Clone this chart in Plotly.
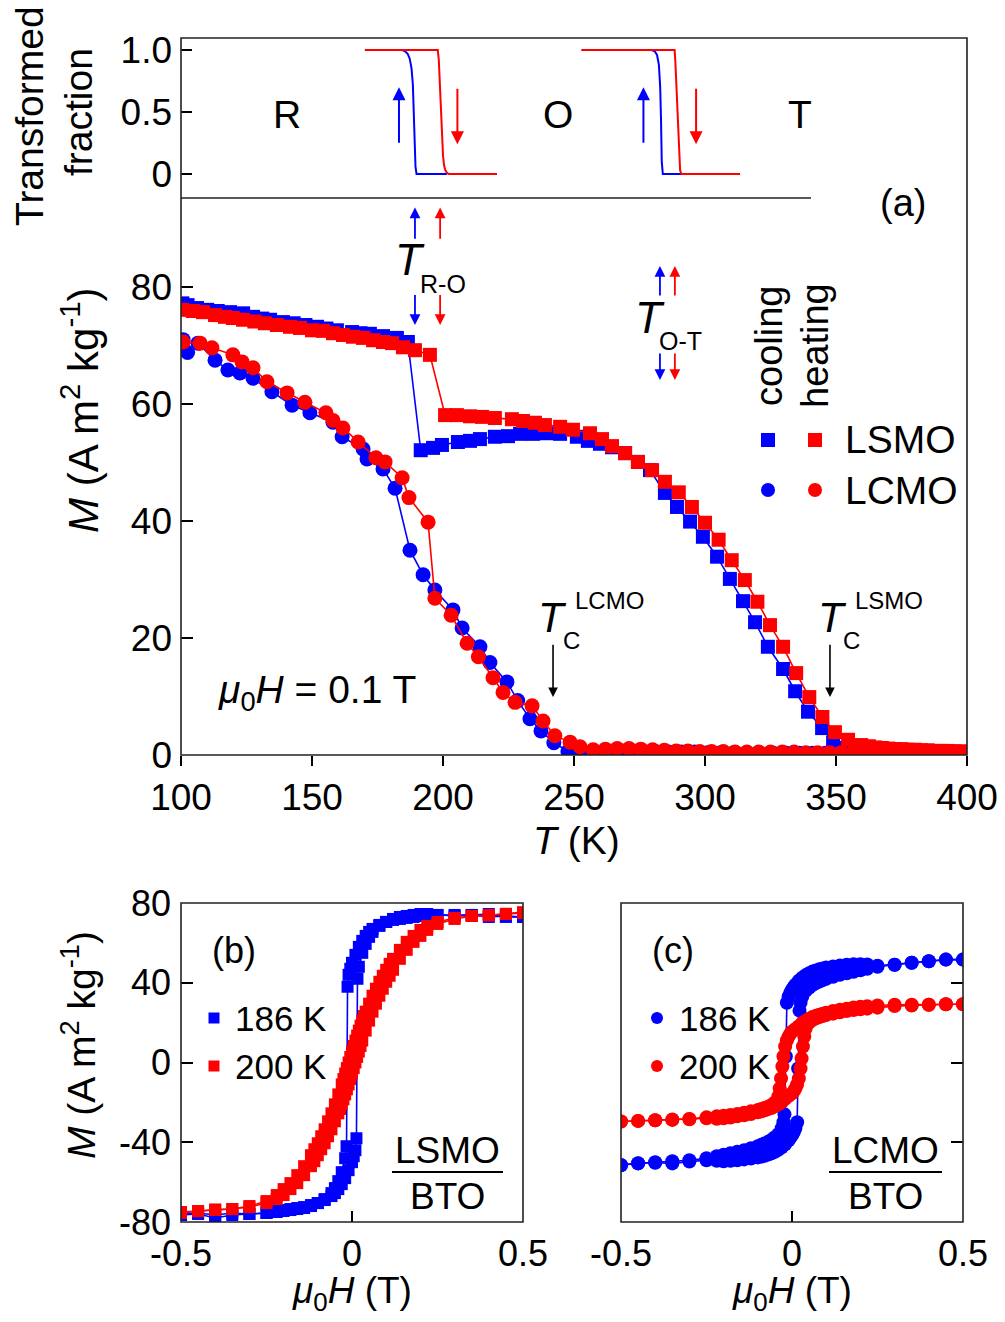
import plotly.graph_objects as go

FONT = "Liberation Sans, Arial, Helvetica, sans-serif"
BLUE = "#0000ff"
RED = "#ff0000"
W, H = 1005, 1322


def px(x):
    return x / W


def py(y):
    return 1 - y / H


# ---------------- (a) top strip: transformed fraction ----------------
ro_cool_T = [170.2, 184.5, 185.5, 186.5, 187.3, 188.0, 188.5, 188.9, 189.2, 189.5, 189.9, 201.5]
ro_cool_F = [1, 1, 0.99, 0.97, 0.93, 0.85, 0.72, 0.5, 0.25, 0.06, 0, 0]
ro_heat_T = [170.2, 198.0, 198.4, 198.8, 199.2, 199.6, 200.0, 200.4, 200.9, 201.5, 202.2, 220.6]
ro_heat_F = [1, 1, 0.92, 0.72, 0.5, 0.3, 0.15, 0.07, 0.03, 0.01, 0, 0]
ot_cool_T = [252.9, 279.6, 280.8, 281.7, 282.4, 282.9, 283.2, 283.5, 283.9, 291.0]
ot_cool_F = [1, 1, 0.99, 0.96, 0.88, 0.7, 0.45, 0.1, 0, 0]
ot_heat_T = [252.9, 288.4, 288.7, 289.0, 289.4, 289.8, 290.1, 290.5, 291.0, 313.4]
ot_heat_F = [1, 1, 0.9, 0.75, 0.5, 0.25, 0.1, 0.03, 0, 0]

# ---------------- (a) M(T) at 0.1 T ----------------
lsmo_cool_T = [100.5, 102.5, 106.1, 110.0, 114.0, 118.7, 123.7, 127.5, 131.0, 134.0,
               138.9, 143.0, 147.5, 151.9, 155.5, 159.5, 165.3, 168.5, 172.1, 177.1,
               182.4, 186.6, 191.5, 196.2, 199.6, 205.7, 210.3, 214.1, 219.8, 224.8,
               229.4, 234.4, 239.7, 244.7, 251.1, 255.3, 259.9, 264.5, 269.5, 274.4,
               279.0, 284.7, 289.3, 294.3, 299.2, 304.6, 309.5, 314.5, 319.1, 324.0,
               329.8, 334.4, 339.3, 344.7, 348.9, 354.2, 357.5, 360.0, 362.5, 365.0,
               367.5, 370.0, 372.5, 375.0, 377.5, 380.0, 382.5, 385.0, 387.5, 390.0,
               392.5, 395.0, 397.5, 400.0]
lsmo_cool_M = [77.2, 76.9, 76.4, 76.1, 75.9, 75.7, 75.5, 74.9, 74.6, 74.4,
               74.0, 73.8, 73.5, 73.2, 72.9, 72.6, 72.3, 72.1, 72.0, 71.6,
               71.3, 70.6, 52.1, 52.5, 53.0, 53.5, 53.7, 54.0, 54.4, 54.5,
               54.9, 54.9, 55.0, 54.9, 54.4, 53.7, 53.2, 52.6, 51.6, 50.1,
               48.7, 44.8, 42.4, 39.9, 37.3, 33.9, 30.1, 26.3, 22.7, 18.5,
               14.7, 10.9, 7.4, 4.6, 2.1, 1.2, 1.1, 1.0, 1.0, 0.9,
               0.9, 0.9, 0.8, 0.8, 0.8, 0.7, 0.7, 0.7, 0.6, 0.6,
               0.6, 0.6, 0.5, 0.5]

lsmo_heat_T = [100.5, 104.5, 108.4, 113.0, 116.8, 119.8, 123.7, 128.0, 132.0, 136.6,
               141.6, 145.4, 150.0, 154.2, 158.0, 161.8, 165.6, 169.5, 173.3, 177.1,
               180.5, 184.7, 189.3, 195.0, 200.8, 205.3, 210.3, 214.9, 219.8, 226.3,
               230.5, 235.1, 238.9, 244.7, 249.6, 256.1, 260.7, 264.5, 269.5, 274.4,
               279.8, 284.7, 290.0, 295.0, 300.0, 305.2, 310.2, 315.2, 320.0, 324.8,
               329.8, 334.8, 339.8, 344.8, 349.6, 354.6, 359.6, 362.5, 365.0, 367.5,
               370.0, 372.5, 375.0, 377.5, 380.0, 382.5, 385.0, 387.5, 390.0, 392.5,
               395.0, 397.5, 400.0]
lsmo_heat_M = [76.1, 75.9, 75.7, 75.2, 74.9, 74.7, 74.4, 74.1, 73.8, 73.5,
               73.2, 73.0, 72.6, 72.5, 72.1, 71.8, 71.5, 71.3, 70.9, 70.6,
               70.4, 69.7, 69.2, 68.4, 58.1, 58.1, 57.9, 57.8, 57.6, 57.4,
               57.1, 56.8, 56.4, 56.1, 55.6, 55.0, 54.0, 52.8, 51.6, 50.1,
               48.7, 46.7, 44.9, 42.4, 39.7, 36.8, 33.3, 29.9, 26.2, 22.2,
               18.5, 14.0, 9.9, 6.5, 3.9, 2.6, 1.7, 1.5, 1.3, 1.2,
               1.1, 1.0, 1.0, 0.9, 0.9, 0.8, 0.8, 0.7, 0.7, 0.7,
               0.6, 0.6, 0.6]

lcmo_cool_T = [100.8, 102.5, 106.5, 113.0, 117.9, 122.5, 127.5, 134.7, 142.4, 149.2,
               158.0, 161.5, 169.5, 171.0, 177.1, 181.7, 187.4, 192.4, 196.9, 203.8,
               207.3, 214.1, 217.9, 224.4, 228.5, 233.2, 237.4, 242.3, 247.7, 252.0,
               257.0, 262.0, 267.0, 271.0, 276.0, 281.0, 286.0, 291.0, 296.0, 301.0,
               306.0, 311.0, 316.0, 321.0, 326.0, 331.0, 336.0, 341.0, 346.0, 351.0,
               356.0, 361.0, 366.0, 371.0, 376.0, 381.0, 386.0, 391.0, 396.0, 400.0]
lcmo_cool_M = [71.0, 68.8, 70.4, 67.5, 65.8, 65.3, 64.4, 62.1, 59.8, 58.5,
               56.9, 54.4, 52.3, 50.6, 48.9, 45.6, 35.0, 30.8, 28.2, 24.8,
               21.7, 18.5, 15.8, 12.5, 9.3, 6.2, 4.1, 2.1, 0.6, 0.5,
               0.6, 0.7, 0.8, 0.8, 0.7, 0.6, 0.5, 0.5, 0.5, 0.4,
               0.4, 0.4, 0.4, 0.3, 0.3, 0.3, 0.3, 0.3, 0.3, 0.3,
               0.3, 0.3, 0.3, 0.2, 0.2, 0.2, 0.2, 0.2, 0.2, 0.2]

lcmo_heat_T = [100.8, 107.3, 111.8, 119.8, 123.3, 127.5, 132.8, 140.5, 147.3, 155.3,
               158.0, 161.8, 167.6, 174.4, 177.9, 184.4, 187.0, 194.3, 196.9, 203.1,
               209.2, 213.5, 219.1, 222.9, 227.5, 234.0, 238.2, 242.7, 248.5, 252.3,
               257.3, 262.0, 266.5, 271.0, 275.5, 280.0, 284.5, 289.0, 293.5, 298.0,
               302.5, 307.0, 311.5, 316.0, 320.5, 325.0, 329.5, 334.0, 338.5, 343.0,
               347.5, 352.0, 356.5, 361.0, 365.5, 370.0, 374.5, 379.0, 383.5, 388.0,
               392.5, 397.0, 400.0]
lcmo_heat_M = [70.6, 70.4, 69.6, 68.4, 67.2, 66.2, 63.8, 61.9, 60.3, 58.5,
               57.2, 55.9, 53.5, 50.8, 50.1, 47.4, 44.0, 39.8, 26.8, 23.9,
               19.1, 16.8, 13.2, 10.7, 9.0, 8.4, 5.8, 3.3, 2.2, 1.4,
               0.9, 1.0, 1.1, 1.1, 1.0, 0.9, 0.8, 0.7, 0.7, 0.6,
               0.6, 0.6, 0.5, 0.5, 0.5, 0.5, 0.5, 0.5, 0.4, 0.4,
               0.4, 0.4, 0.4, 0.4, 0.4, 0.4, 0.3, 0.3, 0.3, 0.3,
               0.3, 0.3, 0.3]

# ---------------- (b) LSMO/BTO loops ----------------
b186_dn_H = [0.50, 0.45, 0.40, 0.35, 0.30, 0.25, 0.22, 0.20, 0.18, 0.16, 0.14, 0.12, 0.10, 0.08,
             0.06, 0.05, 0.04, 0.03, 0.02, 0.01, 0.00, -0.005, -0.010, -0.013, -0.016, -0.020,
             -0.030, -0.040, -0.050, -0.060, -0.080, -0.100, -0.120, -0.140, -0.160, -0.180,
             -0.200, -0.220, -0.250, -0.300, -0.350, -0.400, -0.450, -0.500]
b186_dn_M = [73.0, 73.5, 73.0, 74.0, 74.0, 74.0, 73.5, 73.5, 73.0, 72.5, 72.0, 71.5, 70.5, 69.0,
             67.0, 65.5, 63.5, 61.0, 58.0, 54.0, 50.0, 47.0, 44.0, 38.0, -42.0, -48.0,
             -55.0, -59.5, -63.0, -65.5, -68.5, -70.5, -72.0, -73.0, -73.5, -74.0,
             -74.5, -75.0, -75.5, -76.0, -76.5, -78.0, -76.0, -76.5]
b186_up_H = [-0.500, -0.450, -0.400, -0.350, -0.300, -0.250, -0.220, -0.200, -0.180, -0.160,
             -0.140, -0.120, -0.100, -0.080, -0.060, -0.050, -0.040, -0.030, -0.020, -0.010,
             0.000, 0.005, 0.010, 0.013, 0.016, 0.020, 0.030, 0.040, 0.050, 0.060, 0.080,
             0.100, 0.120, 0.140, 0.160, 0.180, 0.200, 0.220, 0.250, 0.300, 0.350, 0.400,
             0.450, 0.500]
b186_up_M = [-76.0, -75.5, -76.5, -75.5, -76.0, -75.5, -74.5, -74.0, -73.5, -73.0,
             -72.5, -71.5, -70.5, -69.0, -67.0, -65.5, -63.5, -61.0, -58.0, -54.0,
             -50.0, -47.0, -44.0, -38.0, 42.0, 48.0, 55.0, 59.5, 63.0, 65.5, 68.5,
             70.5, 72.0, 73.0, 73.5, 74.0, 74.5, 74.5, 74.0, 73.5, 74.0, 74.5,
             73.0, 73.0]

b200_dn_H = [0.50, 0.45, 0.40, 0.35, 0.30, 0.25, 0.22, 0.20, 0.18, 0.16, 0.14, 0.12, 0.11, 0.10,
             0.09, 0.08, 0.07, 0.06, 0.05, 0.04, 0.035, 0.03, 0.025, 0.02, 0.015, 0.01, 0.005,
             0.0, -0.005, -0.01, -0.015, -0.02, -0.025, -0.03, -0.04, -0.05, -0.06, -0.07,
             -0.08, -0.09, -0.10, -0.11, -0.12, -0.14, -0.16, -0.18, -0.20, -0.22, -0.25,
             -0.30, -0.35, -0.40, -0.45, -0.50]
b200_dn_M = [75.0, 74.5, 74.0, 73.5, 72.5, 70.5, 68.5, 66.5, 63.5, 60.5, 56.5, 52.0, 49.5, 46.5,
             43.5, 40.5, 37.0, 33.5, 29.5, 25.5, 23.3, 21.0, 18.5, 16.0, 13.5, 11.0, 8.3,
             5.5, 2.8, 0.0, -2.8, -5.5, -8.3, -11.0, -16.0, -21.0, -25.5, -29.5,
             -33.5, -37.0, -40.5, -43.5, -46.5, -52.0, -56.5, -60.5, -63.5, -66.5, -69.5,
             -72.0, -73.5, -73.7, -74.6, -75.4]
b200_up_H = [-0.50, -0.45, -0.40, -0.35, -0.30, -0.25, -0.22, -0.20, -0.18, -0.16, -0.14, -0.12,
             -0.11, -0.10, -0.09, -0.08, -0.07, -0.06, -0.05, -0.04, -0.035, -0.03, -0.025,
             -0.02, -0.015, -0.01, -0.005, 0.0, 0.005, 0.01, 0.015, 0.02, 0.025, 0.03, 0.04,
             0.05, 0.06, 0.07, 0.08, 0.09, 0.10, 0.11, 0.12, 0.14, 0.16, 0.18, 0.20, 0.22,
             0.25, 0.30, 0.35, 0.40, 0.45, 0.50]
b200_up_M = [-75.0, -74.5, -74.0, -73.5, -72.5, -70.5, -68.5, -66.5, -63.5, -60.5, -56.5, -52.0,
             -49.5, -46.5, -43.5, -40.5, -37.0, -33.5, -29.5, -25.5, -23.3, -21.0, -18.5,
             -16.0, -13.5, -11.0, -8.3, -5.5, -2.8, 0.0, 2.8, 5.5, 8.3, 11.0, 16.0,
             21.0, 25.5, 29.5, 33.5, 37.0, 40.5, 43.5, 46.5, 52.0, 56.5, 60.5, 63.5, 66.5,
             69.5, 72.0, 73.5, 73.7, 74.6, 75.4]

# ---------------- (c) LCMO/BTO loops ----------------
c186_dn_H = [0.50, 0.45, 0.40, 0.35, 0.30, 0.25, 0.22, 0.20, 0.18, 0.16, 0.14, 0.12, 0.10, 0.09,
             0.08, 0.07, 0.06, 0.05, 0.04, 0.03, 0.02, 0.01, 0.005, 0.0, -0.005, -0.010, -0.015,
             -0.018, -0.022, -0.025, -0.03, -0.04, -0.05, -0.06, -0.07, -0.08, -0.09, -0.10,
             -0.12, -0.14, -0.16, -0.18, -0.20, -0.22, -0.25, -0.30, -0.35, -0.40, -0.45, -0.50]
c186_dn_M = [51.6, 51.6, 50.8, 50.0, 49.0, 48.5, 49.2, 49.3, 49.3, 49.0, 48.6, 48.2, 47.6, 47.2,
             46.8, 46.2, 45.6, 44.8, 43.8, 42.5, 41.0, 39.0, 37.8, 36.5, 35.0, 33.0, 30.0,
             3.0, -26.0, -30.0, -33.0, -36.0, -37.5, -38.8, -39.8, -40.6, -41.3, -42.0,
             -43.0, -44.0, -44.8, -45.5, -46.3, -47.0, -48.0, -49.0, -49.5, -50.0, -50.5, -51.5]
c186_up_H = [-0.50, -0.45, -0.40, -0.35, -0.30, -0.25, -0.22, -0.20, -0.18, -0.16, -0.14, -0.12,
             -0.10, -0.09, -0.08, -0.07, -0.06, -0.05, -0.04, -0.03, -0.02, -0.01, -0.005, 0.0,
             0.005, 0.010, 0.015, 0.018, 0.022, 0.025, 0.03, 0.04, 0.05, 0.06, 0.07, 0.08,
             0.09, 0.10, 0.12, 0.14, 0.16, 0.18, 0.20, 0.22, 0.25, 0.30, 0.35, 0.40, 0.45, 0.50]
c186_up_M = [-51.4, -50.6, -50.3, -50.6, -49.7, -49.0, -49.3, -49.5, -49.3, -49.0, -48.6, -48.2,
             -47.6, -47.2, -46.8, -46.2, -45.6, -44.8, -43.8, -42.5, -41.0, -39.0, -37.8, -36.5,
             -35.0, -33.0, -30.0, -3.0, 26.0, 30.0, 33.0, 36.0, 37.5, 38.8, 39.8, 40.6,
             41.3, 42.0, 43.0, 44.0, 44.8, 45.5, 46.3, 47.0, 48.0, 49.0, 50.0, 50.8, 51.6, 51.6]

c200_dn_H = [0.50, 0.45, 0.40, 0.35, 0.30, 0.25, 0.22, 0.20, 0.18, 0.16, 0.14, 0.12, 0.10, 0.09,
             0.08, 0.07, 0.06, 0.05, 0.04, 0.03, 0.02, 0.01, 0.0, -0.005, -0.01, -0.015, -0.02,
             -0.025, -0.028, -0.032, -0.036, -0.04, -0.05, -0.06, -0.07, -0.08, -0.09, -0.10,
             -0.12, -0.14, -0.16, -0.18, -0.20, -0.22, -0.25, -0.30, -0.35, -0.40, -0.45, -0.50]
c200_dn_M = [29.2, 29.2, 29.0, 29.0, 29.0, 28.6, 28.2, 28.0, 27.6, 27.0, 26.5, 25.8, 25.0, 24.5,
             24.0, 23.4, 22.8, 22.0, 21.0, 19.8, 18.2, 16.8, 15.5, 14.5, 13.0, 11.0, 8.0,
             3.0, -2.0, -8.0, -13.0, -17.0, -20.0, -21.3, -22.2, -22.8, -23.3, -23.8,
             -24.5, -25.2, -25.8, -26.3, -26.7, -27.0, -27.5, -28.3, -28.6, -29.0, -29.3, -29.6]
c200_up_H = [-0.50, -0.45, -0.40, -0.35, -0.30, -0.25, -0.22, -0.20, -0.18, -0.16, -0.14, -0.12,
             -0.10, -0.09, -0.08, -0.07, -0.06, -0.05, -0.04, -0.03, -0.02, -0.01, 0.0, 0.005,
             0.01, 0.015, 0.02, 0.025, 0.028, 0.032, 0.036, 0.04, 0.05, 0.06, 0.07, 0.08,
             0.09, 0.10, 0.12, 0.14, 0.16, 0.18, 0.20, 0.22, 0.25, 0.30, 0.35, 0.40, 0.45, 0.50]
c200_up_M = [-29.6, -29.3, -29.0, -28.8, -28.5, -28.0, -28.2, -28.0, -27.6, -27.0, -26.5, -25.8,
             -25.0, -24.5, -24.0, -23.4, -22.8, -22.0, -21.0, -19.8, -18.2, -16.8, -15.5, -14.5,
             -13.0, -11.0, -8.0, -3.0, 2.0, 8.0, 13.0, 17.0, 20.0, 21.3, 22.2, 22.8,
             23.3, 23.8, 24.5, 25.2, 25.8, 26.3, 26.7, 27.0, 27.5, 28.3, 28.6, 29.0, 29.2, 29.2]

# tick labels
T_TICKS = [100, 150, 200, 250, 300, 350, 400]
M_TICKS = [0, 20, 40, 60, 80]
F_TICKS = [0, 0.5, 1.0]
F_TICKTEXT = ["0", "0.5", "1.0"]
H_TICKS = [-0.5, 0, 0.5]
H_TICKTEXT = ["-0.5", "0", "0.5"]
LOOP_TICKS = [-80, -40, 0, 40, 80]
LOOP_TICKTEXT = ["-80", "-40", "0", "40", "80"]

fig = go.Figure()


def curve(x, y, color, xa, ya, width=2):
    fig.add_trace(go.Scatter(x=x, y=y, mode="lines", xaxis=xa, yaxis=ya,
                             line=dict(color=color, width=width), hoverinfo="skip"))


def points(x, y, color, symbol, size, xa, ya):
    fig.add_trace(go.Scatter(x=x, y=y, mode="lines+markers", xaxis=xa, yaxis=ya,
                             line=dict(color=color, width=1.6),
                             marker=dict(color=color, symbol=symbol, size=size, line=dict(width=0)),
                             hoverinfo="skip"))


# transformed fraction strip
curve(ro_cool_T, ro_cool_F, BLUE, "x2", "y2")
curve(ot_cool_T, ot_cool_F, BLUE, "x2", "y2")
curve(ro_heat_T, ro_heat_F, RED, "x2", "y2")
curve(ot_heat_T, ot_heat_F, RED, "x2", "y2")

# M(T)
points(lsmo_cool_T, lsmo_cool_M, BLUE, "square", 14, "x", "y")
points(lcmo_cool_T, lcmo_cool_M, BLUE, "circle", 15, "x", "y")
points(lsmo_heat_T, lsmo_heat_M, RED, "square", 14, "x", "y")
points(lcmo_heat_T, lcmo_heat_M, RED, "circle", 15, "x", "y")

# loops
points(b186_dn_H, b186_dn_M, BLUE, "square", 12, "x3", "y3")
points(b186_up_H, b186_up_M, BLUE, "square", 12, "x3", "y3")
points(b200_dn_H, b200_dn_M, RED, "square", 12, "x3", "y3")
points(b200_up_H, b200_up_M, RED, "square", 12, "x3", "y3")

points(c186_dn_H, c186_dn_M, BLUE, "circle", 14, "x4", "y4")
points(c186_up_H, c186_up_M, BLUE, "circle", 14, "x4", "y4")
points(c200_dn_H, c200_dn_M, RED, "circle", 14, "x4", "y4")
points(c200_up_H, c200_up_M, RED, "circle", 14, "x4", "y4")

TICKFONT = dict(family=FONT, size=37, color="black")
LOOPFONT = dict(family=FONT, size=36, color="black")
base_axis = dict(showgrid=False, zeroline=False, showline=False, tickcolor="black",
                 tickwidth=1.5, tickfont=TICKFONT, automargin=False)

fig.update_layout(
    width=W, height=H, autosize=False,
    margin=dict(l=0, r=0, t=0, b=0, pad=0, autoexpand=False),
    paper_bgcolor="white", plot_bgcolor="white",
    showlegend=False,
    font=dict(family=FONT, color="black"),
    xaxis=dict(base_axis, domain=[px(181), px(967)], range=[100, 400], anchor="y",
               tickvals=T_TICKS, ticks="outside", ticklen=10),
    yaxis=dict(base_axis, domain=[py(755), py(198)], range=[0, (755 - 198) / 5.85], anchor="x",
               tickvals=M_TICKS, ticks="inside", ticklen=12, ticklabelstandoff=8),
    xaxis2=dict(base_axis, domain=[px(181), px(967)], range=[100, 400], anchor="y2",
                showticklabels=False, ticks=""),
    yaxis2=dict(base_axis, domain=[py(198), py(38)], range=[(174 - 198) / 124, (174 - 38) / 124],
                anchor="x2", tickvals=F_TICKS, ticktext=F_TICKTEXT, ticks="inside", ticklen=11,
                ticklabelstandoff=8),
    xaxis3=dict(base_axis, domain=[px(181), px(523)], range=[-0.5, 0.5], anchor="y3",
                tickvals=H_TICKS, ticktext=H_TICKTEXT, ticks="inside", ticklen=11,
                tickfont=LOOPFONT, ticklabelstandoff=7),
    yaxis3=dict(base_axis, domain=[py(1222), py(903)], range=[-80, 80], anchor="x3",
                tickvals=LOOP_TICKS, ticktext=LOOP_TICKTEXT, ticks="inside", ticklen=12,
                tickfont=LOOPFONT, ticklabelstandoff=9),
    xaxis4=dict(base_axis, domain=[px(621), px(963)], range=[-0.5, 0.5], anchor="y4",
                tickvals=H_TICKS, ticktext=H_TICKTEXT, ticks="inside", ticklen=11,
                tickfont=LOOPFONT, ticklabelstandoff=7),
    yaxis4=dict(base_axis, domain=[py(1222), py(903)], range=[-80, 80], anchor="x4",
                side="right", tickvals=LOOP_TICKS, showticklabels=False,
                ticks="inside", ticklen=12),
)

# frames and separator
shapes = []
FRAME = dict(color="#222222", width=1.6)
for (x0, y0, x1, y1) in [(181, 38, 967, 755), (181, 903, 523, 1222), (621, 903, 963, 1222)]:
    shapes.append(dict(type="rect", xref="paper", yref="paper", x0=px(x0), x1=px(x1),
                       y0=py(y1), y1=py(y0), line=FRAME, layer="above"))
shapes.append(dict(type="line", xref="paper", yref="paper", x0=px(181), x1=px(811),
                   y0=py(198), y1=py(198), line=FRAME))
# fraction bars under the sample names
for (x0, x1) in [(392, 503), (829, 942)]:
    shapes.append(dict(type="line", xref="paper", yref="paper", x0=px(x0), x1=px(x1),
                       y0=py(1172), y1=py(1172), line=dict(color="black", width=2)))


# legend glyphs
def glyph(kind, cx, cy, size, color):
    h = size / 2
    shapes.append(dict(type="rect" if kind == "square" else "circle", xref="paper", yref="paper",
                       x0=px(cx - h), x1=px(cx + h), y0=py(cy + h), y1=py(cy - h),
                       fillcolor=color, line=dict(width=0)))


glyph("square", 768, 440, 14, BLUE)
glyph("square", 815, 440, 14, RED)
glyph("circle", 768, 490, 14, BLUE)
glyph("circle", 815, 490, 14, RED)
glyph("square", 214, 1018, 11, BLUE)
glyph("square", 214, 1066, 11, RED)
glyph("circle", 657, 1018, 12, BLUE)
glyph("circle", 657, 1066, 12, RED)
fig.update_layout(shapes=shapes)

ann = []


def label(text, x, y, size, xanchor="center", angle=0):
    ann.append(dict(text=text, x=px(x), y=py(y), xref="paper", yref="paper", showarrow=False,
                    xanchor=xanchor, yanchor="middle", textangle=angle,
                    font=dict(family=FONT, size=size, color="black")))


def arrow(x, y_tip, y_tail, color, xa, ya, width=2.0, head=1.3):
    ann.append(dict(text="", x=x, y=y_tip, ax=x, ay=y_tail, xref=xa, yref=ya, axref=xa, ayref=ya,
                    showarrow=True, arrowhead=2, arrowsize=head, arrowwidth=width,
                    arrowcolor=color, standoff=0, startstandoff=0))


# axis titles
label("Transformed", 30, 116, 39, angle=-90)
label("fraction", 79, 112, 39, angle=-90)
label("<i>M</i> (A m<sup>2</sup> kg<sup>-1</sup>)", 80, 410, 42, angle=-90)
label("<i>T</i> (K)", 576, 840, 39)
label("<i>M</i> (A m<sup>2</sup> kg<sup>-1</sup>)", 78, 1045, 39, angle=-90)
label("<i>μ</i><sub>0</sub><i>H</i> (T)", 352, 1293, 37)
label("<i>μ</i><sub>0</sub><i>H</i> (T)", 792, 1293, 37)

# phase labels in the fraction strip
label("R", 287, 115, 39)
label("O", 558, 115, 39)
label("T", 800, 115, 39)
label("(a)", 903, 203, 38)

# transition markers
label("<i>T</i>", 410, 259, 44)
label("R-O", 418, 284, 25, xanchor="left")
label("<i>T</i>", 650, 317, 44)
label("O-T", 657, 341, 25, xanchor="left")
label("<i>T</i>", 552, 617, 42)
label("C", 571, 640, 24)
label("LCMO", 573, 600, 24, xanchor="left")
label("<i>T</i>", 832, 617, 42)
label("C", 851, 640, 24)
label("LSMO", 853, 600, 24, xanchor="left")
label("<i>μ</i><sub>0</sub><i>H</i> = 0.1 T", 216, 692, 39, xanchor="left")

# legend (a)
label("cooling", 769, 346, 38, angle=-90)
label("heating", 815, 346, 38, angle=-90)
label("LSMO", 843, 440, 39, xanchor="left")
label("LCMO", 843, 490, 39, xanchor="left")

# (b) and (c) labels
label("(b)", 234, 950, 36)
label("186 K", 233, 1018, 35, xanchor="left")
label("200 K", 233, 1066, 35, xanchor="left")
label("LSMO", 447, 1150, 37)
label("BTO", 447, 1196, 37)
label("(c)", 673, 950, 36)
label("186 K", 677, 1018, 35, xanchor="left")
label("200 K", 677, 1066, 35, xanchor="left")
label("LCMO", 885, 1150, 37)
label("BTO", 885, 1196, 37)

# arrows in the fraction strip
arrow(183.2, 0.70, 0.24, BLUE, "x2", "y2")
arrow(205.5, 0.24, 0.70, RED, "x2", "y2")
arrow(276.5, 0.70, 0.24, BLUE, "x2", "y2")
arrow(296.6, 0.24, 0.70, RED, "x2", "y2")

# T_R-O and T_O-T arrows
arrow(189.3, 93.6, 88.0, BLUE, "x", "y", 1.8, 1.2)
arrow(198.9, 93.6, 88.0, RED, "x", "y", 1.8, 1.2)
arrow(189.3, 73.5, 78.9, BLUE, "x", "y", 1.8, 1.2)
arrow(198.9, 73.5, 78.9, RED, "x", "y", 1.8, 1.2)
arrow(282.8, 83.6, 78.3, BLUE, "x", "y", 1.8, 1.2)
arrow(288.5, 83.6, 78.3, RED, "x", "y", 1.8, 1.2)
arrow(282.8, 64.1, 68.9, BLUE, "x", "y", 1.8, 1.2)
arrow(288.5, 64.1, 68.9, RED, "x", "y", 1.8, 1.2)

# Curie temperatures
arrow(242.0, 9.9, 19.1, "black", "x", "y", 1.6, 1.2)
arrow(347.7, 9.9, 19.1, "black", "x", "y", 1.6, 1.2)

fig.update_layout(annotations=ann)

fig.write_html("out.html")
